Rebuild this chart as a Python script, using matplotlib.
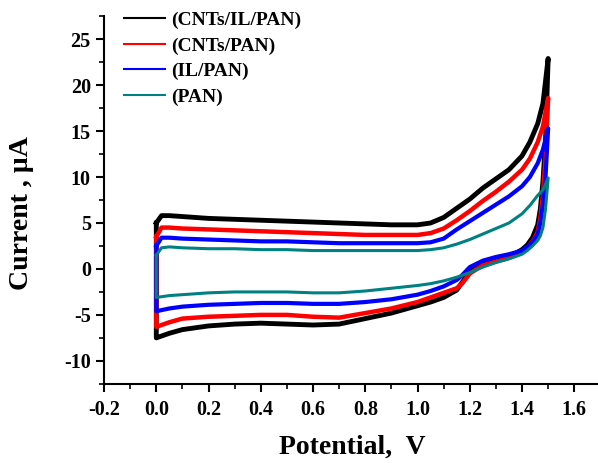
import matplotlib
matplotlib.use('Agg')
import matplotlib.pyplot as plt
from matplotlib.ticker import MultipleLocator

# forward scan (0 -> 1.5 V)
v_fwd = [0.0, 0.02, 0.05, 0.1, 0.2, 0.3, 0.4, 0.5, 0.6, 0.7, 0.8, 0.9, 1.0,
         1.05, 1.1, 1.15, 1.2, 1.25, 1.3, 1.35, 1.4, 1.43, 1.46, 1.48, 1.5]
i_fwd_cnt_il = [5.0, 5.8, 5.8, 5.7, 5.5, 5.4, 5.3, 5.2, 5.1, 5.0, 4.9, 4.8, 4.8,
                5.0, 5.6, 6.6, 7.6, 8.8, 9.8, 10.8, 12.3, 13.8, 15.8, 18.0, 22.9]
i_fwd_cnt = [3.5, 4.5, 4.5, 4.4, 4.3, 4.2, 4.1, 4.0, 3.9, 3.8, 3.7, 3.7, 3.7,
             3.9, 4.4, 5.3, 6.3, 7.4, 8.4, 9.5, 10.8, 12.0, 13.8, 15.5, 18.6]
i_fwd_il = [2.5, 3.4, 3.4, 3.3, 3.2, 3.1, 3.0, 3.0, 2.9, 2.8, 2.8, 2.8, 2.8,
            2.9, 3.3, 4.3, 5.2, 6.1, 7.0, 7.9, 9.0, 10.0, 11.5, 13.0, 15.3]
i_fwd_pan = [1.5, 2.3, 2.4, 2.3, 2.2, 2.2, 2.1, 2.1, 2.0, 2.0, 2.0, 2.0, 2.0,
             2.1, 2.3, 2.7, 3.2, 3.8, 4.4, 5.0, 6.0, 6.9, 8.0, 8.6, 9.9]

# reverse scan (1.5 -> 0 V)
v_rev = [1.5, 1.49, 1.48, 1.47, 1.46, 1.44, 1.42, 1.4, 1.35, 1.3, 1.25, 1.2, 1.17,
         1.15, 1.1, 1.05, 1.0, 0.9, 0.8, 0.7, 0.6, 0.5, 0.4, 0.3, 0.2, 0.1, 0.05, 0.0]
i_rev_cnt_il = [22.9, 14.0, 9.5, 6.5, 4.8, 3.4, 2.6, 2.1, 1.3, 0.9, 0.5, -0.3, -1.5,
                -2.3, -3.1, -3.6, -4.0, -4.8, -5.4, -6.0, -6.1, -6.0, -5.9, -6.0, -6.2, -6.6, -7.0, -7.5]
i_rev_cnt = [18.6, 12.0, 8.0, 5.5, 4.0, 3.0, 2.3, 1.8, 1.2, 0.8, 0.4, -0.5, -1.6,
             -2.1, -2.6, -3.1, -3.6, -4.3, -4.8, -5.3, -5.2, -5.0, -5.0, -5.1, -5.2, -5.4, -5.8, -6.3]
i_rev_il = [15.3, 10.0, 7.0, 5.0, 3.8, 2.9, 2.4, 2.0, 1.6, 1.3, 0.9, 0.2, -0.7,
            -1.2, -1.9, -2.4, -2.8, -3.3, -3.6, -3.8, -3.8, -3.7, -3.7, -3.8, -3.9, -4.1, -4.3, -4.6]
i_rev_pan = [9.9, 6.5, 4.5, 3.6, 3.1, 2.5, 2.0, 1.6, 1.1, 0.7, 0.2, -0.4, -0.7,
             -0.9, -1.3, -1.6, -1.8, -2.1, -2.4, -2.6, -2.6, -2.5, -2.5, -2.5, -2.6, -2.8, -2.9, -3.1]

labels = ['(CNTs/IL/PAN)', '(CNTs/PAN)', '(IL/PAN)', '(PAN)']
colors = ['black', '#ff0000', '#0000ff', '#008080']
widths = [3.5, 3.2, 3.0, 2.2]
fwd = [i_fwd_cnt_il, i_fwd_cnt, i_fwd_il, i_fwd_pan]
rev = [i_rev_cnt_il, i_rev_cnt, i_rev_il, i_rev_pan]

plt.rcParams['font.family'] = ['Liberation Serif', 'DejaVu Serif']
plt.rcParams['font.weight'] = 'bold'
plt.rcParams['axes.unicode_minus'] = False

fig = plt.figure(figsize=(5.98, 4.63), dpi=100)
ax = fig.add_axes([0.174, 0.171, 0.83, 0.794])

for lab, c, w, f, r in zip(labels, colors, widths, fwd, rev):
    xs = v_fwd + v_rev + [v_fwd[0]]
    ys = f + r + [f[0]]
    ax.plot(xs, ys, color=c, lw=w, label=lab, solid_joinstyle='round')

ax.set_xlim(-0.2, 1.7)
ax.set_ylim(-12.5, 27.5)
ax.xaxis.set_minor_locator(MultipleLocator(0.1))
ax.yaxis.set_minor_locator(MultipleLocator(2.5))
ax.set_xticks([-0.2, 0.0, 0.2, 0.4, 0.6, 0.8, 1.0, 1.2, 1.4, 1.6])
ax.set_yticks([-10, -5, 0, 5, 10, 15, 20, 25])
ax.spines['top'].set_visible(False)
ax.spines['right'].set_visible(False)
for s in ['left', 'bottom']:
    ax.spines[s].set_linewidth(1.5)
ax.tick_params(which='major', direction='out', length=6, width=1.5, labelsize=14.5)
ax.tick_params(axis='x', which='major', pad=6)
ax.tick_params(which='minor', direction='out', length=3.5, width=1.2)
for t in ax.get_xticklabels() + ax.get_yticklabels():
    t.set_fontweight('bold')

ax.set_xlabel('Potential,  V', fontsize=20, fontweight='bold', labelpad=10)
ax.set_ylabel('Current , \u00b5A', fontsize=20, fontweight='bold')
ax.yaxis.set_label_coords(-0.141, 0.465)

leg_lines = [plt.Line2D([], [], color=c, lw=1.5) for c in colors]
fig.legend(leg_lines, labels, loc='upper left', bbox_to_anchor=(0.208, 0.975),
           frameon=False, borderpad=0, borderaxespad=0, handlelength=2.1,
           handletextpad=0.3, labelspacing=0.4, prop={'size': 14, 'weight': 'bold'})

plt.savefig('out.png', dpi=100)
plt.close()
